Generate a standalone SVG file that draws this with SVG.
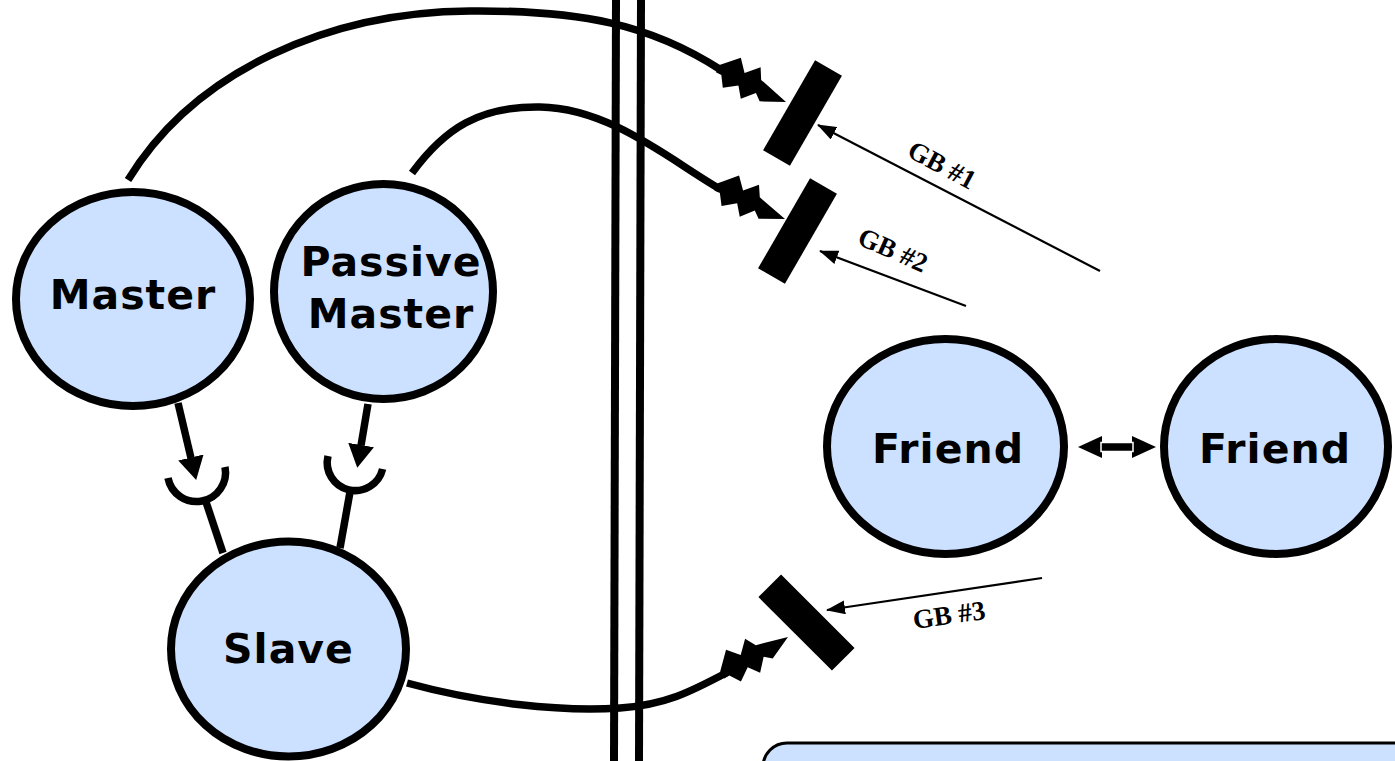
<svg xmlns="http://www.w3.org/2000/svg" width="1395" height="761" viewBox="0 0 1395 761">
<style>
.node{fill:#cce0ff;stroke:#000;stroke-width:8}
.lbl{font-family:"DejaVu Sans","Verdana",sans-serif;font-weight:bold;font-size:41px;letter-spacing:1px;fill:#000;text-anchor:middle}
.gb{font-family:"Liberation Serif","Times New Roman",serif;font-weight:bold;font-size:27px;fill:#000;text-anchor:middle}
.thick{fill:none;stroke:#000;stroke-width:7.5}
.thin{fill:none;stroke:#000;stroke-width:2.2}
.blk{fill:#000}
</style>
<defs>
<marker id="thinArrow" markerUnits="userSpaceOnUse" viewBox="0 0 19 14" refX="18" refY="7" markerWidth="19" markerHeight="14" orient="auto">
<path d="M0,0 L19,7 L0,14 z" fill="#000"/>
</marker>
<marker id="thickArrow" markerUnits="userSpaceOnUse" viewBox="0 0 23 26" refX="0.5" refY="13" markerWidth="23" markerHeight="26" orient="auto">
<path d="M0,0 L23,13 L0,26 z" fill="#000"/>
</marker>
<polygon id="bolt" points="-76,-4 -60,-20 -50,-8 -38,-20 -32,-9 0,0 -24,11 -31,5 -42,17 -50,6 -63,15 -70,4 -76,4"/>
</defs>

<g id="boundary">
<line x1="616" y1="0" x2="614" y2="761" stroke="#000" stroke-width="8"/>
<line x1="641" y1="0" x2="639" y2="761" stroke="#000" stroke-width="8"/>
</g>

<g id="connectors">
<path class="thick" d="M128 180 C195 70 330 12 470 11 C580 10 650 24 721 70"/>
<use href="#bolt" transform="translate(786,102) rotate(26)"/>
<path class="thick" d="M412 173 C445 128 480 106 540 107 C610 108 670 160 720 189"/>
<use href="#bolt" transform="translate(785,219) rotate(25)"/>
<path class="thick" d="M407 683 C480 703 560 712 620 708 C665 705 690 692 726 673"/>
<use href="#bolt" transform="translate(788,637) rotate(-30)"/>

<line class="thick" x1="178" y1="403" x2="191" y2="458" marker-end="url(#thickArrow)"/>
<path class="thick" d="M168 478 A29 29 0 1 0 225 467"/>
<line class="thick" x1="206" y1="502" x2="223" y2="553"/>

<line class="thick" x1="368" y1="404" x2="361" y2="445.5" marker-end="url(#thickArrow)"/>
<path class="thick" d="M328 456 A28 28 0 1 0 382.6 469"/>
<line class="thick" x1="350" y1="492" x2="340" y2="548"/>

<line class="thin" x1="1100" y1="271" x2="818" y2="125" marker-end="url(#thinArrow)"/>
<line class="thin" x1="966" y1="306" x2="820" y2="251" marker-end="url(#thinArrow)"/>
<line class="thin" x1="1042" y1="578" x2="827" y2="610" marker-end="url(#thinArrow)"/>

<g id="friendLink">
<polygon class="blk" points="1078,447 1102,436 1102,458"/>
<polygon class="blk" points="1156,447 1132,436 1132,458"/>
<rect x="1101" y="442.5" width="32" height="9" fill="#000" stroke="#fff" stroke-width="1.5"/>
</g>
</g>

<g id="gateway1"><rect x="787" y="61" width="31" height="104" transform="rotate(30 802.5 113)" class="blk"/></g>
<g id="gateway2"><rect x="782" y="179" width="31" height="104" transform="rotate(30 797.5 231)" class="blk"/></g>
<g id="gateway3"><rect x="790.5" y="570.5" width="32" height="104" transform="rotate(-45 806.5 622.5)" class="blk"/></g>

<g id="gb-labels">
<text class="gb" transform="translate(942,165) rotate(28)" x="0" y="9">GB #1</text>
<text class="gb" transform="translate(893,250) rotate(24)" x="0" y="9">GB #2</text>
<text class="gb" transform="translate(949,615) rotate(-8)" x="0" y="9">GB #3</text>
</g>

<g id="master">
<ellipse class="node" cx="133" cy="299" rx="117" ry="107"/>
<text class="lbl" x="133" y="309">Master</text>
</g>
<g id="passive-master">
<ellipse class="node" cx="383.5" cy="291.5" rx="109.5" ry="107.5"/>
<text class="lbl" x="391" y="276">Passive</text>
<text class="lbl" x="391" y="328">Master</text>
</g>
<g id="slave">
<ellipse class="node" cx="288.5" cy="649" rx="117.5" ry="107.5"/>
<text class="lbl" x="288.5" y="663">Slave</text>
</g>
<g id="friend1">
<ellipse class="node" cx="945.5" cy="446.5" rx="118.5" ry="107.5"/>
<text class="lbl" x="948" y="463">Friend</text>
</g>
<g id="friend2">
<ellipse class="node" cx="1276" cy="446.5" rx="112" ry="107.5"/>
<text class="lbl" x="1275" y="463">Friend</text>
</g>

<g id="note">
<rect x="763" y="743" width="700" height="100" rx="24" ry="24" fill="#cce0ff" stroke="#000" stroke-width="3"/>
</g>
</svg>
